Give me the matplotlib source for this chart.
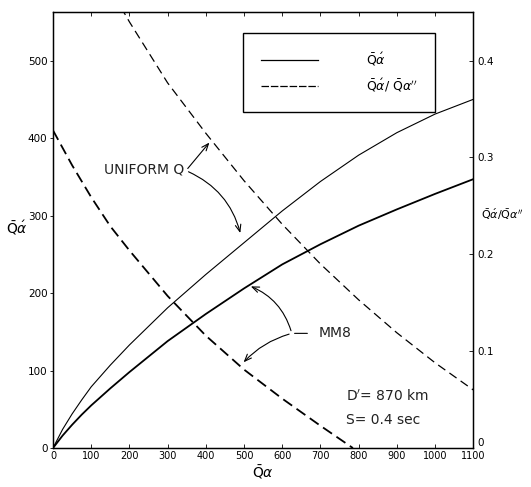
import numpy as np
import matplotlib
matplotlib.use('Agg')
from matplotlib import pyplot as plt

# Q'alpha (left axis) vs Q alpha
qa_uni = [0, 25, 50, 75, 100, 150, 200, 300, 400, 500, 600, 700, 800, 900, 1000, 1100]
qp_uni = [0, 24, 44, 62, 79, 107, 133, 181, 224, 265, 306, 344, 378, 407, 431, 450]
qa_mm8 = [0, 25, 50, 75, 100, 150, 200, 300, 400, 500, 600, 700, 800, 900, 1000, 1100]
qp_mm8 = [0, 16, 30, 43, 55, 77, 98, 138, 173, 206, 237, 263, 287, 308, 328, 347]

# ratio Q'alpha / Q''alpha (right axis)
ra_uni = [178, 200, 300, 400, 500, 600, 700, 800, 900, 1000, 1100]
rv_uni = [0.455, 0.440, 0.377, 0.325, 0.276, 0.231, 0.190, 0.153, 0.119, 0.088, 0.060]
ra_mm8 = [0, 50, 100, 150, 200, 300, 400, 500, 600, 700, 785]
rv_mm8 = [0.328, 0.292, 0.259, 0.229, 0.204, 0.157, 0.116, 0.081, 0.051, 0.023, 0.0]

xticks = list(range(0, 1200, 100))
yticks = [0, 100, 200, 300, 400, 500]
rticks = [0, 0.1, 0.2, 0.3, 0.4]

plt.rcParams['font.family'] = ['DejaVu Sans']
fig = plt.figure(figsize=(5.31, 4.87), dpi=100)
ax = fig.add_axes([0.0998, 0.080, 0.7915, 0.895])
ax2 = ax.twinx()

k = 'black'
ax.plot(qa_uni, qp_uni, color=k, lw=0.8)
ax.plot(qa_mm8, qp_mm8, color=k, lw=1.3)
ax2.plot(ra_uni, rv_uni, color=k, lw=0.9, dashes=(7, 4))
ax2.plot(ra_mm8, rv_mm8, color=k, lw=1.3, dashes=(6, 3))

ax.set_xlim(0, 1100)
ax.set_ylim(0, 562.5)
ax2.set_ylim(0, 0.45)
ax.set_xticks(xticks)
ax.set_xticklabels([str(t) for t in xticks], fontsize=7)
ax.set_yticks(yticks)
ax.set_yticklabels([str(t) for t in yticks], fontsize=7.5)
ax2.set_yticks(rticks)
ax2.set_yticklabels(['0', '0.1', '0.2', '0.3', '0.4'], fontsize=7.5)
ax2.get_yticklabels()[0].set_va('bottom')
ax.tick_params(axis='x', direction='in', length=3, width=0.6, top=True, pad=2)
ax.tick_params(axis='y', direction='out', length=2, width=0.6, pad=2)
ax2.tick_params(axis='y', direction='in', length=3, width=0.6, pad=3)
for s in ax.spines.values():
    s.set_linewidth(1.0)

ax.set_xlabel(r'$\bar{\mathrm{Q}}\alpha$', fontsize=10, labelpad=2)
ax.set_ylabel(r"$\bar{\mathrm{Q}}\acute{\alpha}$", fontsize=10, rotation=0, labelpad=6)
ax.yaxis.set_label_coords(-0.085, 0.485)
ax2.set_ylabel(r"$\bar{\mathrm{Q}}\acute{\alpha}/\bar{\mathrm{Q}}\alpha''$", fontsize=8, rotation=0)
ax2.yaxis.set_label_coords(1.068, 0.555)

# legend
lh = [plt.Line2D([], [], color=k, lw=0.9),
      plt.Line2D([], [], color=k, lw=0.9, dashes=(6, 1.5))]
leg = ax.legend(lh, [r"$\bar{\mathrm{Q}}\acute{\alpha}$",
                     r"$\bar{\mathrm{Q}}\acute{\alpha}/\ \bar{\mathrm{Q}}\alpha''$"],
                loc='upper right', bbox_to_anchor=(0.909, 0.952), borderaxespad=0,
                fontsize=9, handlelength=4.6, handletextpad=3.8, borderpad=1.4,
                labelspacing=0.75, fancybox=False, edgecolor=k, framealpha=1)
leg.get_frame().set_linewidth(1.0)

ap = dict(arrowstyle='->,head_length=0.5,head_width=0.2', color=k, lw=0.8)
ax.text(343, 360, 'UNIFORM Q', fontsize=10, ha='right', va='center', color='#222222')
ax.annotate('', xy=(414, 397), xytext=(348, 358), arrowprops=ap)
ax.annotate('', xy=(492, 274), xytext=(348, 358),
            arrowprops=dict(ap, connectionstyle='arc3,rad=-0.25'))

ax.text(694, 148, 'MM8', fontsize=10, ha='left', va='center', color='#222222')
ax.annotate('', xy=(673, 148), xytext=(625, 148),
            arrowprops=dict(arrowstyle='-', color=k, lw=0.8))
ax.annotate('', xy=(511, 210), xytext=(625, 148),
            arrowprops=dict(ap, connectionstyle='arc3,rad=0.25'))
ax.annotate('', xy=(494, 108), xytext=(625, 148),
            arrowprops=dict(ap, connectionstyle='arc3,rad=0.15'))

ax.text(768, 66, "D$'$= 870 km", fontsize=10, ha='left', va='center', color='#222222')
ax.text(768, 36, 'S= 0.4 sec', fontsize=10, ha='left', va='center', color='#222222')

fig.savefig('out.png', dpi=100)
